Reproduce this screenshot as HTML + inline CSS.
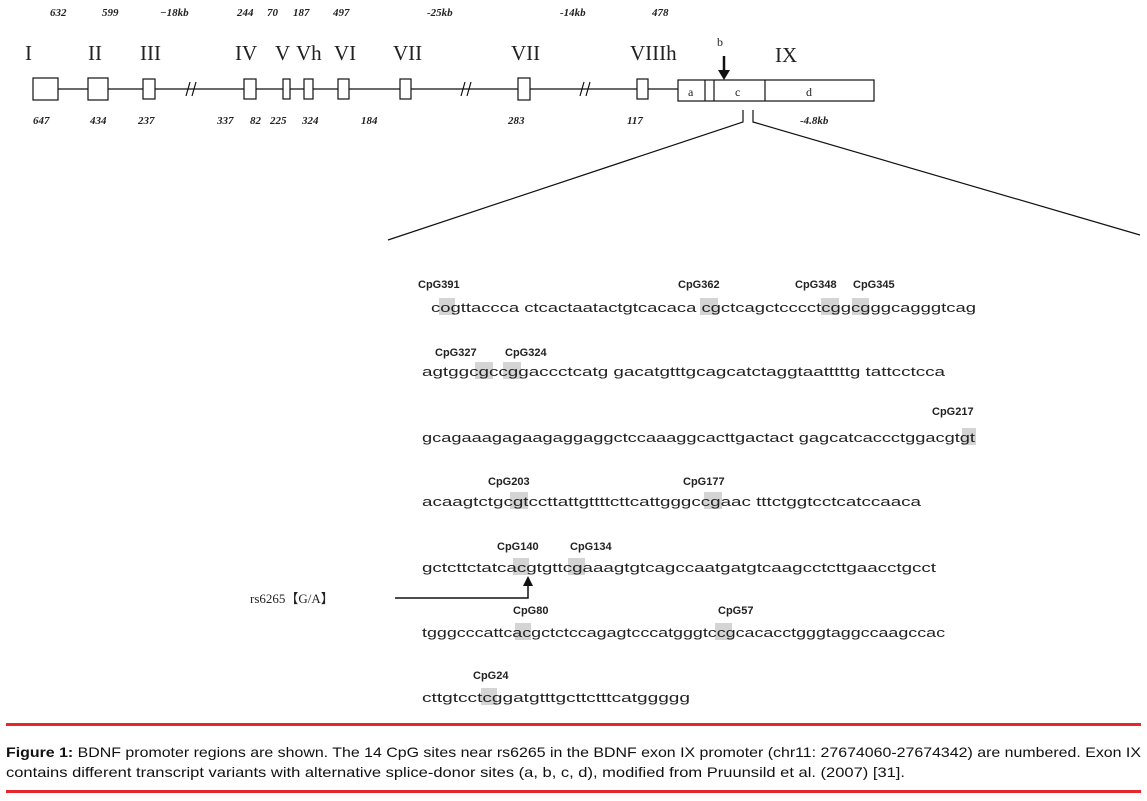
<!DOCTYPE html>
<html><head><meta charset="utf-8"><style>
html,body{margin:0;padding:0;background:#fff;width:1147px;height:801px;overflow:hidden}
svg{display:block}
.num{font-family:"Liberation Serif",serif;font-style:italic;font-weight:bold;font-size:11px;fill:#222}
.rom{font-family:"Liberation Serif",serif;font-size:21px;fill:#222}
.sm{font-family:"Liberation Serif",serif;font-size:12px;fill:#222}
.seq{font-family:"Liberation Sans",sans-serif;font-size:13px;fill:#222}
.lab{font-family:"Liberation Sans",sans-serif;font-size:11px;font-weight:bold;fill:#222}
.cap{font-family:"Liberation Sans",sans-serif;font-size:14px;fill:#111}
</style></head><body>
<svg width="1147" height="801" viewBox="0 0 1147 801" xmlns="http://www.w3.org/2000/svg">
<g class="num">
<text x="50" y="16">632</text><text x="102" y="16">599</text><text x="160" y="16">−18kb</text>
<text x="237" y="16">244</text><text x="267" y="16">70</text><text x="293" y="16">187</text><text x="333" y="16">497</text>
<text x="427" y="16">-25kb</text><text x="560" y="16">-14kb</text><text x="652" y="16">478</text>
<text x="33" y="124">647</text><text x="90" y="124">434</text><text x="138" y="124">237</text>
<text x="217" y="124">337</text><text x="250" y="124">82</text><text x="270" y="124">225</text><text x="302" y="124">324</text>
<text x="361" y="124">184</text><text x="508" y="124">283</text><text x="627" y="124">117</text><text x="800" y="124">-4.8kb</text>
</g>
<g class="rom">
<text x="25" y="60">I</text><text x="88" y="60">II</text><text x="140" y="60">III</text>
<text x="235" y="60">IV</text><text x="275" y="60">V</text><text x="296" y="60">Vh</text><text x="334" y="60">VI</text>
<text x="393" y="60">VII</text><text x="511" y="60">VII</text><text x="630" y="60">VIIIh</text><text x="775" y="62">IX</text>
</g>
<text class="sm" x="717" y="46">b</text>
<g stroke="#111" stroke-width="1.2" fill="#fff">
<line x1="58" y1="89" x2="678" y2="89"/>
<rect x="33" y="78" width="25" height="22"/>
<rect x="88" y="78" width="20" height="22"/>
<rect x="143" y="79" width="12" height="20"/>
<rect x="244" y="79" width="12" height="20"/>
<rect x="283" y="79" width="7" height="20"/>
<rect x="304" y="79" width="9" height="20"/>
<rect x="338" y="79" width="11" height="20"/>
<rect x="400" y="79" width="11" height="20"/>
<rect x="518" y="78" width="12" height="22"/>
<rect x="637" y="79" width="11" height="20"/>
<rect x="678" y="80" width="196" height="21"/>
<line x1="705" y1="80" x2="705" y2="101"/><line x1="714" y1="80" x2="714" y2="101"/><line x1="765" y1="80" x2="765" y2="101"/>
</g>
<g stroke="#111" stroke-width="1.2">
<line x1="186" y1="96" x2="190" y2="82"/><line x1="192" y1="96" x2="196" y2="82"/>
<line x1="461" y1="96" x2="465" y2="82"/><line x1="467" y1="96" x2="471" y2="82"/>
<line x1="580" y1="96" x2="584" y2="82"/><line x1="586" y1="96" x2="590" y2="82"/>
<line x1="724" y1="56" x2="724" y2="72" stroke-width="2.5"/>
</g>
<polygon points="718,70 730,70 724,80" fill="#111"/>
<g class="sm"><text x="688" y="96">a</text><text x="735" y="96">c</text><text x="806" y="96">d</text></g>
<g stroke="#111" stroke-width="1.2" fill="none">
<polyline points="743,110 743,122 388,240"/>
<polyline points="753,110 753,122 1140,235"/>
</g>
<g fill="#d4d4d4">
<rect x="439" y="298" width="16" height="17"/><rect x="700" y="298" width="18" height="17"/><rect x="821" y="298" width="18" height="17"/><rect x="852" y="298" width="17" height="17"/>
<rect x="475" y="362" width="18" height="17"/><rect x="503" y="362" width="18" height="17"/>
<rect x="962" y="428" width="14" height="17"/>
<rect x="510" y="492" width="18" height="17"/><rect x="704" y="492" width="18" height="17"/>
<rect x="513" y="558" width="16" height="17"/><rect x="568" y="558" width="17" height="17"/>
<rect x="515" y="623" width="16" height="17"/><rect x="715" y="623" width="17" height="17"/>
<rect x="481" y="688" width="16" height="17"/>
</g>
<g class="seq">
<text x="431" y="312" textLength="545" lengthAdjust="spacingAndGlyphs">cogttaccca ctcactaatactgtcacaca cgctcagctcccctcggcgggcagggtcag</text>
<text x="422" y="376" textLength="523" lengthAdjust="spacingAndGlyphs">agtggcgccggaccctcatg gacatgtttgcagcatctaggtaatttttg tattcctcca</text>
<text x="422" y="442" textLength="553" lengthAdjust="spacingAndGlyphs">gcagaaagagaagaggaggctccaaaggcacttgactact gagcatcaccctggacgtgt</text>
<text x="422" y="506" textLength="499" lengthAdjust="spacingAndGlyphs">acaagtctgcgtccttattgttttcttcattgggccgaac tttctggtcctcatccaaca</text>
<text x="422" y="572" textLength="514" lengthAdjust="spacingAndGlyphs">gctcttctatcacgtgttcgaaagtgtcagccaatgatgtcaagcctcttgaacctgcct</text>
<text x="422" y="637" textLength="523" lengthAdjust="spacingAndGlyphs">tgggcccattcacgctctccagagtcccatgggtccgcacacctgggtaggccaagccac</text>
<text x="422" y="702" textLength="268" lengthAdjust="spacingAndGlyphs">cttgtcctcggatgtttgcttctttcatggggg</text>
</g>
<g class="lab">
<text x="418" y="288">CpG391</text><text x="678" y="288">CpG362</text><text x="795" y="288">CpG348</text><text x="853" y="288">CpG345</text>
<text x="435" y="356">CpG327</text><text x="505" y="356">CpG324</text>
<text x="932" y="415">CpG217</text>
<text x="488" y="485">CpG203</text><text x="683" y="485">CpG177</text>
<text x="497" y="550">CpG140</text><text x="570" y="550">CpG134</text>
<text x="513" y="614">CpG80</text><text x="718" y="614">CpG57</text>
<text x="473" y="679">CpG24</text>
</g>
<text class="sm" x="250" y="603" style="font-size:13px">rs6265【G/A】</text>
<polyline points="395,598 528,598 528,584" stroke="#111" stroke-width="1.5" fill="none"/>
<polygon points="523,586 533,586 528,576" fill="#111"/>
<rect x="6" y="723" width="1135" height="3" fill="#e8262c"/>
<rect x="6" y="790" width="1135" height="3" fill="#e8262c"/>
<text class="cap" x="6" y="757" textLength="1135" lengthAdjust="spacingAndGlyphs"><tspan font-weight="bold">Figure 1:</tspan> BDNF promoter regions are shown. The 14 CpG sites near rs6265 in the BDNF exon IX promoter (chr11: 27674060-27674342) are numbered. Exon IX</text>
<text class="cap" x="6" y="777" textLength="899" lengthAdjust="spacingAndGlyphs">contains different transcript variants with alternative splice-donor sites (a, b, c, d), modified from Pruunsild et al. (2007) [31].</text>
</svg>
</body></html>
